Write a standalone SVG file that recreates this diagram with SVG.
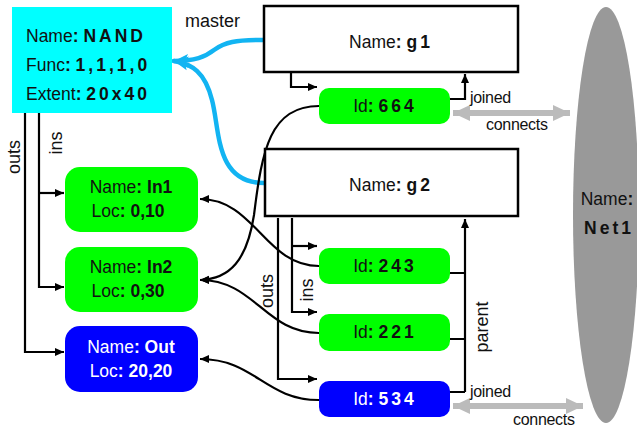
<svg xmlns="http://www.w3.org/2000/svg" width="637" height="427" viewBox="0 0 637 427">
<style>
text{font-family:"Liberation Sans",Arial,sans-serif;fill:#111}
.n{font-size:17.5px}
.b{font-weight:bold}
.ls{letter-spacing:3px}
.lbl{font-size:16px;letter-spacing:-0.3px}
.rl{font-size:18px}
.w{fill:#fff}
.ln{fill:none;stroke:#000;stroke-width:2.2}
.blue{fill:none;stroke:#12b4f2;stroke-width:4.5;stroke-linecap:round}
.grey{fill:none;stroke:#bbb;stroke-width:6}
</style>
<defs>
<marker id="ah" markerUnits="userSpaceOnUse" markerWidth="10" markerHeight="9" refX="9" refY="4.5" orient="auto"><path d="M0,0.5 L9,4.5 L0,8.5 z" fill="#000"/></marker>
<marker id="bh" markerUnits="userSpaceOnUse" markerWidth="16" markerHeight="16" refX="14" refY="8" orient="auto"><path d="M0,1 L14,8 L0,15 L3,8 z" fill="#12b4f2"/></marker>
<marker id="gh" markerUnits="userSpaceOnUse" markerWidth="18" markerHeight="18" refX="17" refY="9" orient="auto-start-reverse"><path d="M0,1 L17,9 L0,17 z" fill="#bbb"/></marker>
</defs>

<g id="net1">
<ellipse cx="606" cy="215" rx="33" ry="208" fill="#999"/>
<text class="n" x="607" y="205" text-anchor="middle">Name<tspan class="b">:</tspan></text>
<text class="n b ls" x="609" y="234" text-anchor="middle">Net1</text>
</g>

<g id="connectors">
<path class="blue" d="M264 40 C235 40 225 42 214 50 C205 57 195 61 174 61" marker-end="url(#bh)"/>
<path class="blue" d="M264 183 C215 183 220 130 212 100 C205 72 192 64 174 61" marker-end="url(#bh)"/>
<path class="ln" d="M25 113 V352 H64" marker-end="url(#ah)"/>
<path class="ln" d="M39 113 V287 H64" marker-end="url(#ah)"/>
<path class="ln" d="M39 193 H64" marker-end="url(#ah)"/>
<path class="ln" d="M291 72 V87 H317" marker-end="url(#ah)"/>
<path class="ln" d="M450 99 H465 V74" marker-end="url(#ah)"/>
<path class="ln" d="M278 218 V379 H317" marker-end="url(#ah)"/>
<path class="ln" d="M292 218 V312 H317" marker-end="url(#ah)"/>
<path class="ln" d="M292 246 H317" marker-end="url(#ah)"/>
<path class="ln" d="M465 392 V219" marker-end="url(#ah)"/>
<path class="ln" d="M450 273 H465 M450 339 H465 M450 392 H465"/>
<path class="ln" d="M319 106 C270 106 262 150 254 215 C247 260 230 279 200 280" marker-end="url(#ah)"/>
<path class="ln" d="M319 266 C265 266 255 199 200 199" marker-end="url(#ah)"/>
<path class="ln" d="M319 333 C265 333 255 280 200 280" marker-end="url(#ah)"/>
<path class="ln" d="M319 400 C265 400 255 359 200 359" marker-end="url(#ah)"/>
<path class="grey" d="M453 113 H570" marker-start="url(#gh)" marker-end="url(#gh)"/>
<path class="grey" d="M453 406 H583" marker-start="url(#gh)" marker-end="url(#gh)"/>
<text class="rl" x="185" y="27">master</text>
<text class="lbl" x="470" y="103">joined</text>
<text class="lbl" x="486" y="130">connects</text>
<text class="lbl" x="470" y="397">joined</text>
<text class="lbl" x="513" y="425">connects</text>
<text class="rl" transform="translate(20,157) rotate(-90)" text-anchor="middle">outs</text>
<text class="rl" transform="translate(62,143) rotate(-90)" text-anchor="middle">ins</text>
<text class="rl" transform="translate(273,291) rotate(-90)" text-anchor="middle">outs</text>
<text class="rl" transform="translate(313,290) rotate(-90)" text-anchor="middle">ins</text>
<text class="rl" transform="translate(488,327) rotate(-90)" text-anchor="middle">parent</text>
</g>

<g id="nand">
<rect x="12" y="7" width="160" height="106" fill="#00ffff"/>
<text class="n" x="26" y="42">Name<tspan class="b">:  </tspan><tspan class="b ls">NAND</tspan></text>
<text class="n" x="26" y="71">Func<tspan class="b">: </tspan><tspan class="b ls">1,1,1,0</tspan></text>
<text class="n" x="26" y="100">Extent<tspan class="b">: </tspan><tspan class="b ls">20x40</tspan></text>
</g>

<g id="g1">
<rect x="264" y="6" width="254" height="66" fill="#fff" stroke="#000" stroke-width="2.5"/>
<text class="n" x="391" y="48" text-anchor="middle">Name<tspan class="b">: </tspan><tspan class="b ls">g1</tspan></text>
</g>

<g id="g2">
<rect x="265" y="149" width="253" height="67" fill="#fff" stroke="#000" stroke-width="2.5"/>
<text class="n" x="391" y="191" text-anchor="middle">Name<tspan class="b">: </tspan><tspan class="b ls">g2</tspan></text>
</g>

<g id="id664">
<rect x="319" y="88" width="131" height="36" rx="10" fill="#00ff00"/>
<text class="n" x="385" y="112" text-anchor="middle">Id<tspan class="b">: </tspan><tspan class="b ls">664</tspan></text>
</g>

<g id="id243">
<rect x="319" y="248" width="131" height="36" rx="10" fill="#00ff00"/>
<text class="n" x="385" y="272" text-anchor="middle">Id<tspan class="b">: </tspan><tspan class="b ls">243</tspan></text>
</g>

<g id="id221">
<rect x="319" y="314" width="131" height="37" rx="10" fill="#00ff00"/>
<text class="n" x="385" y="338" text-anchor="middle">Id<tspan class="b">: </tspan><tspan class="b ls">221</tspan></text>
</g>

<g id="id534">
<rect x="319" y="381" width="131" height="36" rx="10" fill="#0000ff"/>
<text class="n w" x="385" y="405" text-anchor="middle">Id<tspan class="b">: </tspan><tspan class="b ls">534</tspan></text>
</g>

<g id="in1">
<rect x="65" y="167" width="133" height="65" rx="15" fill="#00ff00"/>
<text class="n" x="131" y="193" text-anchor="middle">Name<tspan class="b">: In1</tspan></text>
<text class="n" x="128" y="217" text-anchor="middle">Loc<tspan class="b">: 0,10</tspan></text>
</g>

<g id="in2">
<rect x="65" y="247" width="133" height="65" rx="15" fill="#00ff00"/>
<text class="n" x="131" y="273" text-anchor="middle">Name<tspan class="b">: In2</tspan></text>
<text class="n" x="128" y="297" text-anchor="middle">Loc<tspan class="b">: 0,30</tspan></text>
</g>

<g id="out">
<rect x="65" y="326" width="133" height="66" rx="15" fill="#0000ff"/>
<text class="n w" x="131" y="353" text-anchor="middle">Name<tspan class="b">: Out</tspan></text>
<text class="n w" x="131" y="377" text-anchor="middle">Loc<tspan class="b">: 20,20</tspan></text>
</g>
</svg>
